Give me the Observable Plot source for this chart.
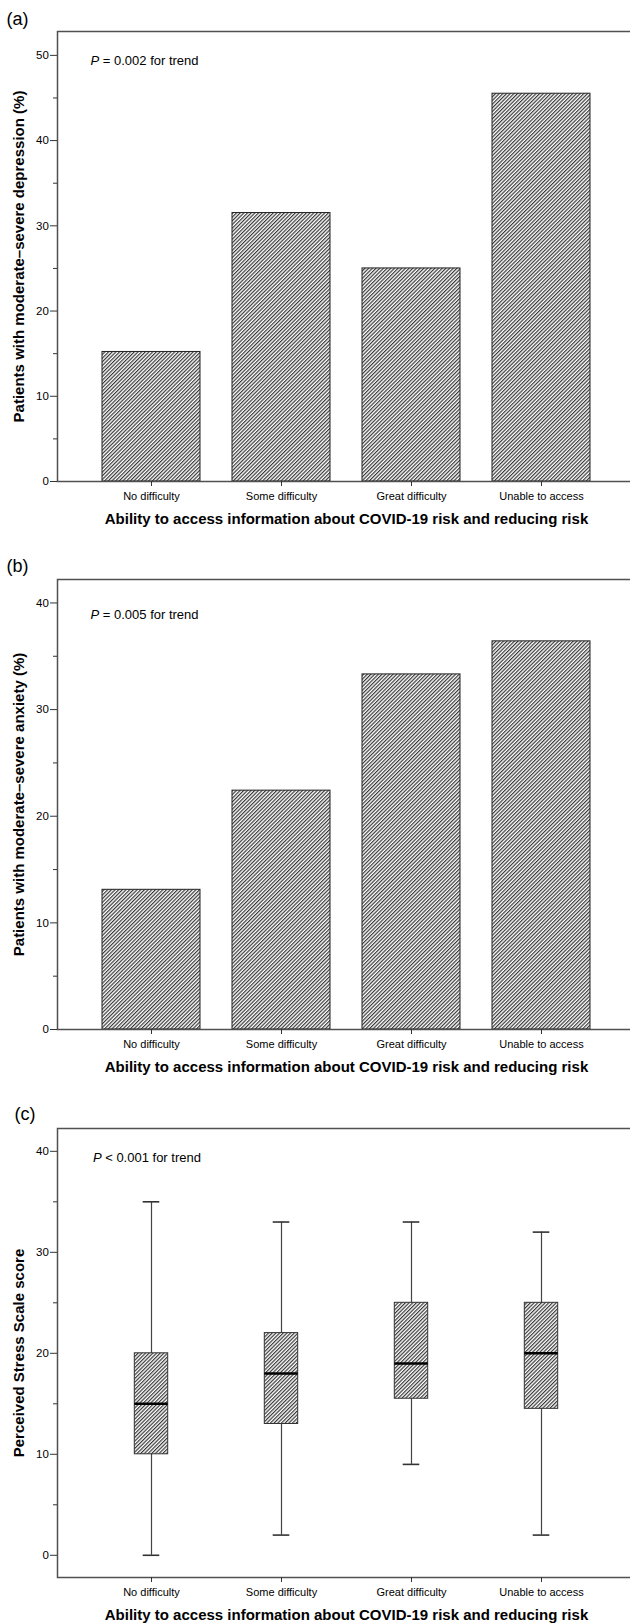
<!DOCTYPE html>
<html>
<head>
<meta charset="utf-8">
<script src="https://cdn.jsdelivr.net/npm/d3@7"></script>
<script src="https://cdn.jsdelivr.net/npm/@observablehq/plot@0.6"></script>
<style>
  html, body { margin: 0; padding: 0; background: #fff; }
  #root { width: 630px; }
  #root svg { display: block; }
</style>
</head>
<body>
<svg width="0" height="0" style="position:absolute">
  <defs>
    <pattern id="hatch" patternUnits="userSpaceOnUse" width="2.6" height="10" patternTransform="rotate(45)">
      <rect width="2.6" height="10" fill="#ffffff"></rect>
      <line x1="0.6" y1="-1" x2="0.6" y2="11" stroke="#383838" stroke-width="1.2"></line>
    </pattern>
  </defs>
</svg>
<div id="root"></div>
<script>
// ---- data ----
const categories = ["No difficulty", "Some difficulty", "Great difficulty", "Unable to access"];
const depressionPct = [15.2, 31.5, 25.0, 45.5];
const anxietyPct = [13.1, 22.4, 33.3, 36.4];
const pssMin = [0, 2, 9, 2];
const pssQ1 = [10, 13, 15.5, 14.5];
const pssMedian = [15, 18, 19, 20];
const pssQ3 = [20, 22, 25, 25];
const pssMax = [35, 33, 33, 32];
const yTicksA = [0, 10, 20, 30, 40, 50];
const yMinorA = [5, 15, 25, 35, 45];
const yTicksB = [0, 10, 20, 30, 40];
const yMinorB = [5, 15, 25, 35];
const yTicksC = [0, 10, 20, 30, 40];
const yMinorC = [5, 15, 25, 35];
const panelLabels = ["(a)", "(b)", "(c)"];
const pTexts = ["P = 0.002 for trend", "P = 0.005 for trend", "P < 0.001 for trend"];
const yTitles = [
  "Patients with moderate\u2013severe depression (%)",
  "Patients with moderate\u2013severe anxiety (%)",
  "Perceived Stress Scale score"
];
const xTitle = "Ability to access information about COVID-19 risk and reducing risk";

const barsA = categories.map((c, i) => ({cat: c, value: depressionPct[i]}));
const barsB = categories.map((c, i) => ({cat: c, value: anxietyPct[i]}));
const boxes = categories.map((c, i) => ({cat: c, min: pssMin[i], q1: pssQ1[i], median: pssMedian[i], q3: pssQ3[i], max: pssMax[i]}));

const FONT = "'Liberation Sans', Arial, Helvetica, sans-serif";

function panel(o) {
  const chart = Plot.plot({
    width: 630,
    height: o.height,
    marginLeft: 57,
    marginRight: -5,
    marginTop: 31,
    marginBottom: o.marginBottom,
    style: {fontFamily: FONT, fontSize: "11px", color: "#000", background: "#fff", overflow: "hidden"},
    x: {domain: categories, paddingInner: 0.246, paddingOuter: 0.346, align: 0.5},
    y: {domain: o.yDomain},
    marks: [
      ...o.marks,
      Plot.frame({stroke: "#505050", strokeWidth: 1.5}),
      Plot.axisY({ticks: o.yTicks, tickSize: 7, tickPadding: 1.7, fontSize: 11.5, label: null, stroke: "#333", tickFormat: d => String(d)}),
      Plot.axisY({ticks: o.yMinor, tickSize: 4, label: null, stroke: "#333", tickFormat: () => ""}),
      Plot.axisX({tickSize: 5, tickPadding: 5.5, fontSize: 11, label: null, stroke: "#333"}),
      Plot.text([o.label], {text: d => d, frameAnchor: "top-left", dx: o.labelDx, dy: o.labelDy, fontSize: 18, textAnchor: "start", lineAnchor: "middle", fill: "#000"}),
      Plot.text([o.pText], {text: d => d, frameAnchor: "top-left", dx: o.pDx, dy: o.pDy, fontSize: 13, textAnchor: "start", lineAnchor: "middle", fill: "#000"}),
      Plot.text([o.yTitle], {text: d => d, frameAnchor: "left", dx: -38, rotate: -90, fontSize: 15, fontWeight: "bold", textAnchor: "middle", lineAnchor: "middle", fill: "#000"}),
      Plot.text([xTitle], {text: d => d, frameAnchor: "bottom", dy: 38, fontSize: 15, fontWeight: "bold", textAnchor: "middle", lineAnchor: "middle", fill: "#000"})
    ]
  });
  // italicise the leading "P" of the trend annotation
  d3.select(chart).selectAll("text").filter(function() { return this.textContent === o.pText; })
    .each(function() {
      const t = d3.select(this);
      const rest = o.pText.slice(1);
      t.text(null);
      t.append("tspan").attr("font-style", "italic").text("P");
      t.append("tspan").text(rest);
    });
  return chart;
}

const root = document.getElementById("root");

root.appendChild(panel({
  height: 548, marginBottom: 67, yDomain: [0, 52.8], yTicks: yTicksA, yMinor: yMinorA,
  label: panelLabels[0], labelDx: -51, labelDy: -12,
  pText: pTexts[0], pDx: 33, pDy: 29, yTitle: yTitles[0],
  marks: [
    Plot.barY(barsA, {x: "cat", y: "value", fill: "url(#hatch)", stroke: "#222", strokeWidth: 1})
  ]
}));

root.appendChild(panel({
  height: 549, marginBottom: 68, yDomain: [0, 42.2], yTicks: yTicksB, yMinor: yMinorB,
  label: panelLabels[1], labelDx: -51, labelDy: -13,
  pText: pTexts[1], pDx: 33, pDy: 35, yTitle: yTitles[1],
  marks: [
    Plot.barY(barsB, {x: "cat", y: "value", fill: "url(#hatch)", stroke: "#222", strokeWidth: 1})
  ]
}));

root.appendChild(panel({
  height: 526, marginBottom: 46, yDomain: [-2.2, 42.26], yTicks: yTicksC, yMinor: yMinorC,
  label: panelLabels[2], labelDx: -43, labelDy: -14,
  pText: pTexts[2], pDx: 35.4, pDy: 29, yTitle: yTitles[2],
  marks: [
    Plot.ruleX(boxes, {x: "cat", y1: "min", y2: "max", stroke: "#444", strokeWidth: 1.2}),
    Plot.barY(boxes, {x: "cat", y1: "q1", y2: "q3", fill: "url(#hatch)", stroke: "#333", strokeWidth: 1, insetLeft: 32.3, insetRight: 32.3}),
    Plot.tickY(boxes, {x: "cat", y: "median", stroke: "#000", strokeWidth: 2.5, insetLeft: 32.3, insetRight: 32.3}),
    Plot.tickY(boxes, {x: "cat", y: "max", stroke: "#333", strokeWidth: 1.6, insetLeft: 40.7, insetRight: 40.7}),
    Plot.tickY(boxes, {x: "cat", y: "min", stroke: "#333", strokeWidth: 1.6, insetLeft: 40.7, insetRight: 40.7})
  ]
}));
</script>
</body>
</html>
